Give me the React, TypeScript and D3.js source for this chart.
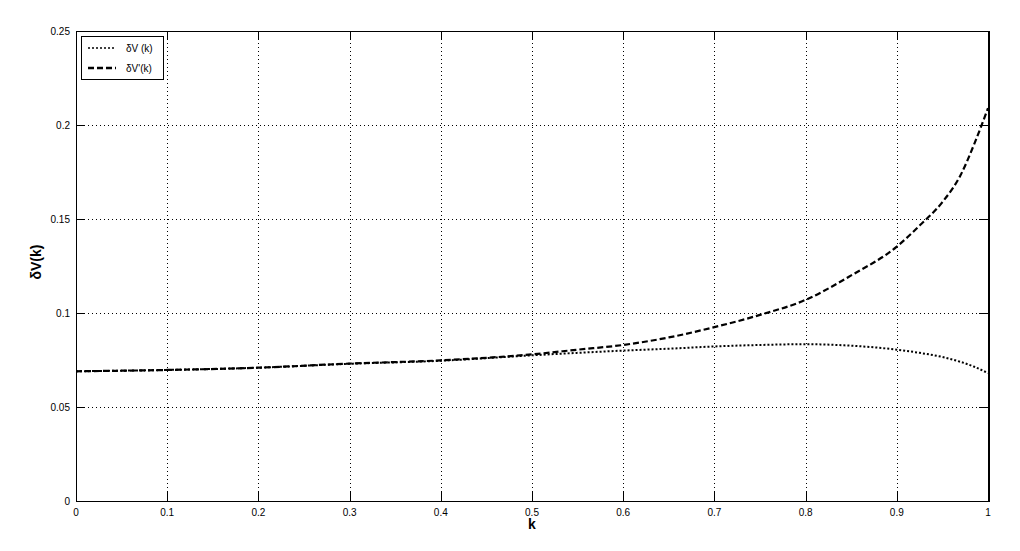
import { useEffect, useRef } from 'react'
import * as d3 from 'd3'

const kValues = [0, 0.1, 0.2, 0.3, 0.4, 0.5, 0.55, 0.6, 0.65, 0.7, 0.75, 0.8, 0.85, 0.9, 0.925, 0.95, 0.97, 0.985, 1]
const dV = [0.069, 0.0697, 0.0709, 0.073, 0.0746, 0.0775, 0.0788, 0.08, 0.081, 0.0822, 0.083, 0.0834, 0.0826, 0.0805, 0.0788, 0.0766, 0.074, 0.0714, 0.068]
const dVPrime = [0.069, 0.0697, 0.0709, 0.0731, 0.0748, 0.078, 0.0805, 0.083, 0.087, 0.0925, 0.099, 0.107, 0.12, 0.1353, 0.1465, 0.159, 0.1734, 0.19, 0.209]
const xTicks = [0, 0.1, 0.2, 0.3, 0.4, 0.5, 0.6, 0.7, 0.8, 0.9, 1]
const yTicks = [0, 0.05, 0.1, 0.15, 0.2, 0.25]
const legendLabels = ['δV (k)', "δV'(k)"]

export default function App() {
  const ref = useRef<SVGSVGElement>(null)

  useEffect(() => {
    const svg = d3.select(ref.current)
    svg.selectAll('*').remove()

    const left = 76, right = 988, top = 31, bottom = 501
    const font = 'Liberation Sans, Arial, sans-serif'

    const x = d3.scaleLinear().domain([0, 1]).range([left, right])
    const y = d3.scaleLinear().domain([0, 0.25]).range([bottom, top])

    // grid
    const grid = svg.append('g').attr('stroke', '#000').attr('stroke-width', 1).attr('stroke-dasharray', '1,3')
    xTicks.slice(1, -1).forEach(t => {
      grid.append('line').attr('x1', Math.round(x(t)) + 0.5).attr('x2', Math.round(x(t)) + 0.5)
        .attr('y1', top).attr('y2', bottom)
    })
    yTicks.slice(1, -1).forEach(t => {
      grid.append('line').attr('y1', Math.round(y(t)) + 0.5).attr('y2', Math.round(y(t)) + 0.5)
        .attr('x1', left).attr('x2', right)
    })

    // ticks (inside, both sides)
    const ticks = svg.append('g').attr('stroke', '#000').attr('stroke-width', 1)
    xTicks.forEach(t => {
      const px = Math.round(x(t)) + 0.5
      ticks.append('line').attr('x1', px).attr('x2', px).attr('y1', bottom).attr('y2', bottom - 9)
      ticks.append('line').attr('x1', px).attr('x2', px).attr('y1', top).attr('y2', top + 9)
    })
    yTicks.forEach(t => {
      const py = Math.round(y(t)) + 0.5
      ticks.append('line').attr('y1', py).attr('y2', py).attr('x1', left).attr('x2', left + 9)
      ticks.append('line').attr('y1', py).attr('y2', py).attr('x1', right).attr('x2', right - 9)
    })

    // frame
    svg.append('rect').attr('x', left + 0.5).attr('y', top + 0.5)
      .attr('width', right - left).attr('height', bottom - top)
      .attr('fill', 'none').attr('stroke', '#000').attr('stroke-width', 1)
    svg.append('line').attr('x1', right + 1).attr('x2', right + 1).attr('y1', top).attr('y2', bottom + 1)
      .attr('stroke', '#000').attr('stroke-width', 2)

    // tick labels
    svg.append('g').selectAll('text').data(xTicks).join('text')
      .attr('x', d => x(d)).attr('y', bottom + 15)
      .attr('text-anchor', 'middle').attr('font-family', font).attr('font-size', 10)
      .text(d => String(d))
    svg.append('g').selectAll('text').data(yTicks).join('text')
      .attr('x', left - 6).attr('y', d => y(d) + 4)
      .attr('text-anchor', 'end').attr('font-family', font).attr('font-size', 10)
      .text(d => String(d))

    // axis labels
    svg.append('text').attr('x', x(0.5)).attr('y', bottom + 28)
      .attr('text-anchor', 'middle').attr('font-family', font).attr('font-size', 14).attr('font-weight', 'bold')
      .text('k')
    svg.append('text').attr('transform', `translate(41,${(top + bottom) / 2 - 4}) rotate(-90)`)
      .attr('text-anchor', 'middle').attr('font-family', font).attr('font-size', 14).attr('font-weight', 'bold')
      .text('δV(k)')

    const line = d3.line<number>()
      .x((_, i) => x(kValues[i]))
      .y(d => y(d))
      .curve(d3.curveMonotoneX)

    svg.append('path').datum(dV).attr('d', line)
      .attr('fill', 'none').attr('stroke', '#000').attr('stroke-width', 2).attr('stroke-dasharray', '2,2')
    svg.append('path').datum(dVPrime).attr('d', line)
      .attr('fill', 'none').attr('stroke', '#000').attr('stroke-width', 2.2).attr('stroke-dasharray', '6,3')

    // legend
    const lg = svg.append('g')
    lg.append('rect').attr('x', 81.5).attr('y', 36.5).attr('width', 82).attr('height', 43)
      .attr('fill', '#fff').attr('stroke', '#000').attr('stroke-width', 1)
    const styles = [{ w: 1.5, dash: '2,2' }, { w: 2.5, dash: '6,3' }]
    legendLabels.forEach((lab, i) => {
      const ly = 48 + i * 20
      lg.append('line').attr('x1', 88).attr('x2', 116).attr('y1', ly).attr('y2', ly)
        .attr('stroke', '#000').attr('stroke-width', styles[i].w).attr('stroke-dasharray', styles[i].dash)
      lg.append('text').attr('x', 126).attr('y', ly + 4)
        .attr('font-family', font).attr('font-size', 10).text(lab)
    })
  }, [])

  return (
    <svg ref={ref} width={1020} height={551}
      style={{ position: 'absolute', left: 0, top: 0, background: '#fff' }} />
  )
}
